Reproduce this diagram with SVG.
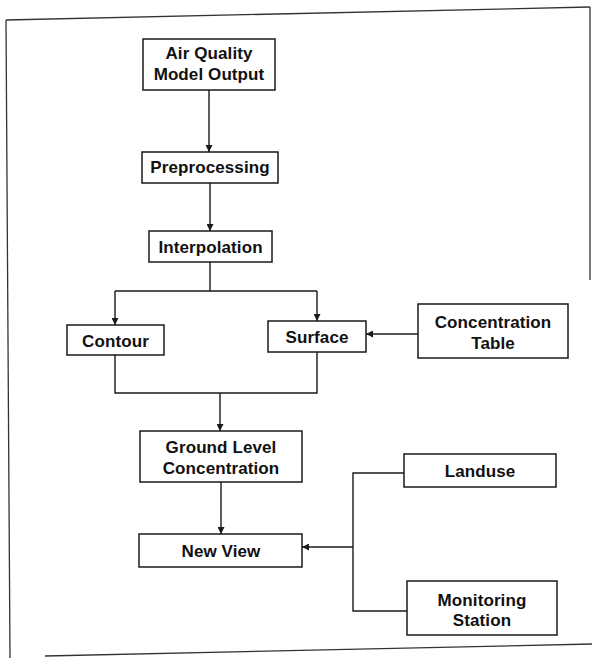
<svg xmlns="http://www.w3.org/2000/svg" width="592" height="658" viewBox="0 0 592 658">
<style>
.box{fill:#fff;stroke:#1a1a1a;stroke-width:1.5}
.t{font-family:"Liberation Sans",Arial,sans-serif;font-weight:bold;font-size:17px;letter-spacing:0.1px;fill:#111;text-anchor:middle}
.c{fill:none;stroke:#1a1a1a;stroke-width:1.4}
.frame{fill:none;stroke:#333;stroke-width:1.3}
</style>
<defs>
<marker id="ah" markerUnits="userSpaceOnUse" markerWidth="8" markerHeight="7" refX="7" refY="3.5" orient="auto">
<path d="M0,0 L7,3.5 L0,7 z" fill="#1a1a1a"/>
</marker>
</defs>
<rect width="592" height="658" fill="#fff"/>
<g id="frame">
<path class="frame" d="M6,20 L590,7"/>
<path class="frame" d="M6,20 L10,658"/>
<path class="frame" d="M45,656 L592,644"/>
<path class="frame" d="M590,7 L590,280"/>
</g>
<g id="connectors">
<path class="c" d="M209,90 L209,152" marker-end="url(#ah)"/>
<path class="c" d="M210,183 L210,231" marker-end="url(#ah)"/>
<path class="c" d="M210,262 L210,291"/>
<path class="c" d="M115,291 L317,291"/>
<path class="c" d="M115,291 L115,325" marker-end="url(#ah)"/>
<path class="c" d="M317,291 L317,321" marker-end="url(#ah)"/>
<path class="c" d="M418,334 L366,334" marker-end="url(#ah)"/>
<path class="c" d="M115,355 L115,393 L317,393 L317,352"/>
<path class="c" d="M220,393 L220,431" marker-end="url(#ah)"/>
<path class="c" d="M221,482 L221,534" marker-end="url(#ah)"/>
<path class="c" d="M404,473 L353,473 L353,611 L407,611"/>
<path class="c" d="M353,547 L302,547" marker-end="url(#ah)"/>
</g>
<g id="aq">
<rect class="box" x="143" y="39" width="132" height="51"/>
<text class="t" x="209" y="58.5">Air Quality</text>
<text class="t" x="209" y="79.5">Model Output</text>
</g>
<g id="pre">
<rect class="box" x="142" y="152" width="136" height="31"/>
<text class="t" x="210" y="173">Preprocessing</text>
</g>
<g id="interp">
<rect class="box" x="149" y="231" width="123" height="31"/>
<text class="t" x="210.5" y="252.5">Interpolation</text>
</g>
<g id="contour">
<rect class="box" x="67" y="325" width="97" height="30"/>
<text class="t" x="115.5" y="346.5">Contour</text>
</g>
<g id="surface">
<rect class="box" x="268" y="321" width="98" height="31"/>
<text class="t" x="317" y="342.5">Surface</text>
</g>
<g id="conctable">
<rect class="box" x="418" y="304" width="150" height="54"/>
<text class="t" x="493" y="328">Concentration</text>
<text class="t" x="493" y="348.5">Table</text>
</g>
<g id="ground">
<rect class="box" x="140" y="431" width="162" height="51"/>
<text class="t" x="221" y="452.5">Ground Level</text>
<text class="t" x="221" y="473.5">Concentration</text>
</g>
<g id="newview">
<rect class="box" x="139" y="534" width="163" height="33"/>
<text class="t" x="221" y="557">New View</text>
</g>
<g id="landuse">
<rect class="box" x="404" y="454" width="152" height="33"/>
<text class="t" x="480" y="476.5">Landuse</text>
</g>
<g id="monitoring">
<rect class="box" x="407" y="581" width="150" height="54"/>
<text class="t" x="482" y="605.5">Monitoring</text>
<text class="t" x="482" y="626">Station</text>
</g>
</svg>
